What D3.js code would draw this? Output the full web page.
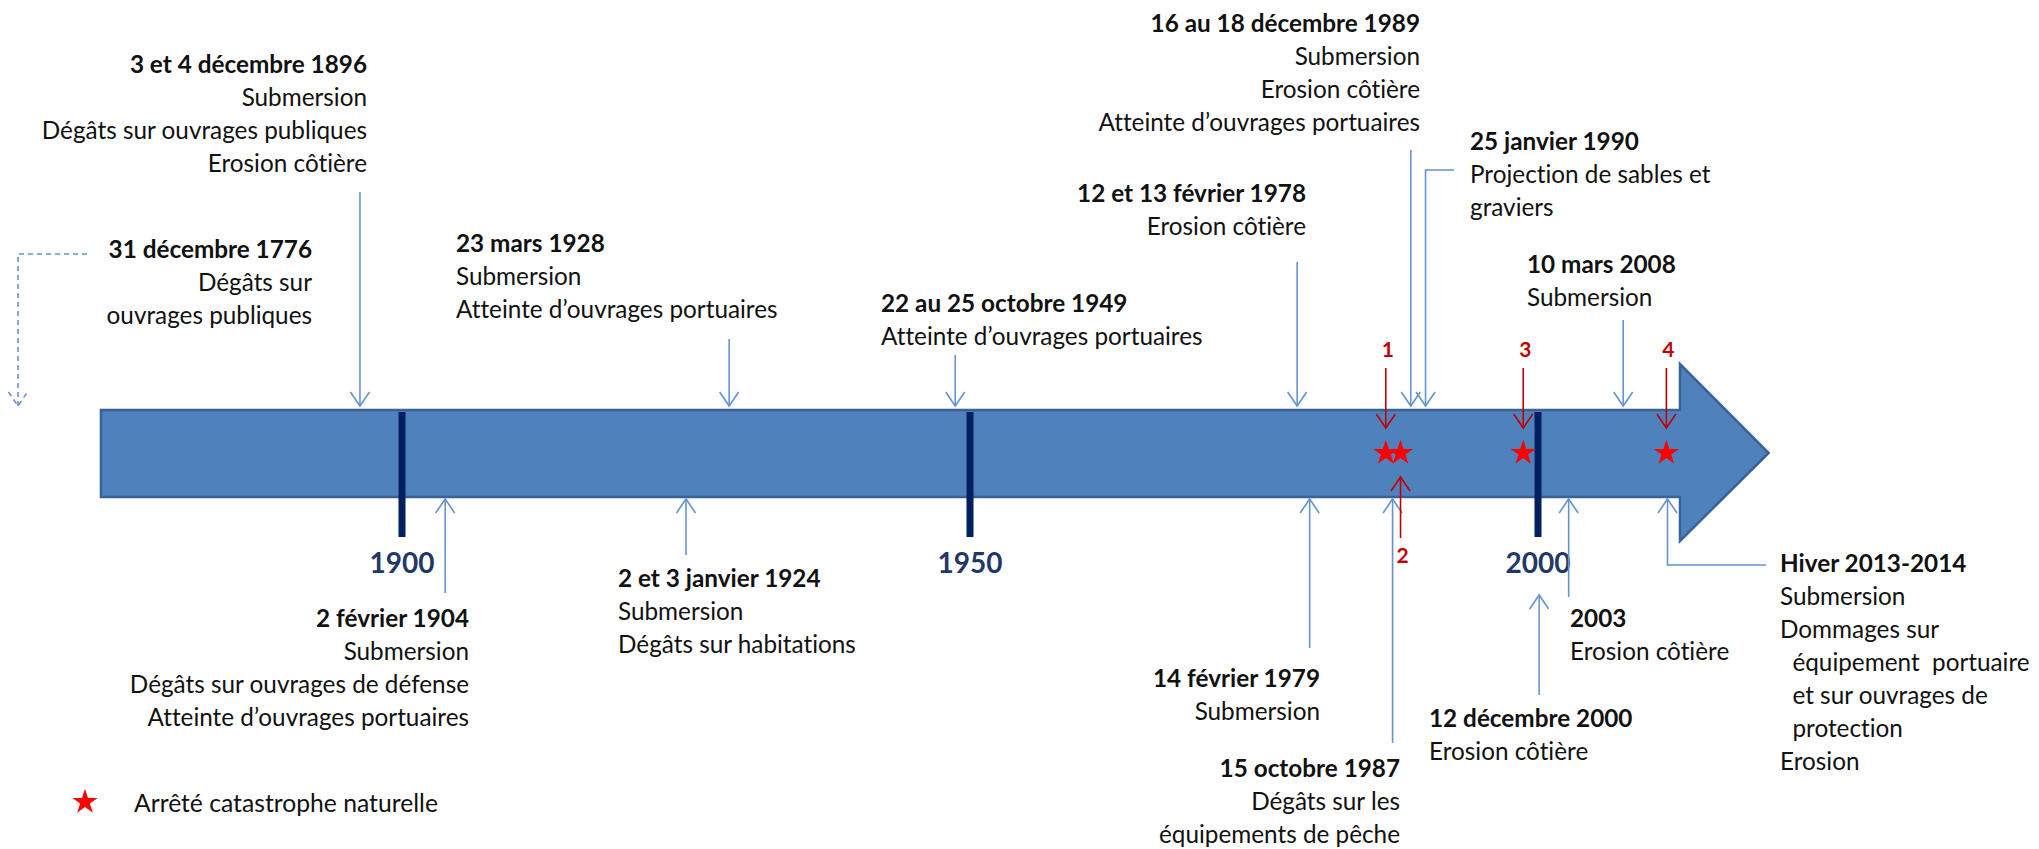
<!DOCTYPE html>
<html lang="fr">
<head>
<meta charset="UTF-8">
<title>Chronologie des tempêtes</title>
<script src="https://cdn.jsdelivr.net/npm/d3@7"></script>
<style>
  body { margin: 0; background: #fff; }
  svg { display: block; font-family: Lato, "Open Sans", sans-serif; }
  text { white-space: pre; font-variant-ligatures: none; font-feature-settings: "liga" 0, "dlig" 0; }
</style>
</head>
<body>
<svg></svg>
<script>
// ---- data ----
const yearTicks = [1900, 1950, 2000];

const eventTitles = [
  "31 décembre 1776",
  "3 et 4 décembre 1896",
  "2 février 1904",
  "2 et 3 janvier 1924",
  "23 mars 1928",
  "22 au 25 octobre 1949",
  "12 et 13 février 1978",
  "14 février 1979",
  "15 octobre 1987",
  "16 au 18 décembre 1989",
  "25 janvier 1990",
  "12 décembre 2000",
  "2003",
  "10 mars 2008",
  "Hiver 2013-2014"
];

const eventLines = [
  ["Dégâts sur", "ouvrages publiques"],
  ["Submersion", "Dégâts sur ouvrages publiques", "Erosion côtière"],
  ["Submersion", "Dégâts sur ouvrages de défense", "Atteinte d’ouvrages portuaires"],
  ["Submersion", "Dégâts sur habitations"],
  ["Submersion", "Atteinte d’ouvrages portuaires"],
  ["Atteinte d’ouvrages portuaires"],
  ["Erosion côtière"],
  ["Submersion"],
  ["Dégâts sur les", "équipements de pêche"],
  ["Submersion", "Erosion côtière", "Atteinte d’ouvrages portuaires"],
  ["Projection de sables et", "graviers"],
  ["Erosion côtière"],
  ["Erosion côtière"],
  ["Submersion"],
  ["Submersion", "Dommages sur", "  équipement  portuaire", "  et sur ouvrages de", "  protection", "Erosion"]
];

// where each arrow meets the timeline (in years)
const eventPos = [1776, 1896.3, 1903.8, 1925.0, 1928.8, 1948.7, 1978.8, 1979.9,
                  1987.2, 1988.8, 1990.1, 2000.1, 2002.7, 2007.5, 2011.4];
const eventSide = ["top", "top", "bottom", "bottom", "top", "top", "top", "bottom",
                   "bottom", "top", "top", "bottom", "bottom", "top", "bottom"];

// arrêtés catastrophe naturelle
const catNatPos = [1986.6, 1987.9, 1998.7, 2011.3];
const catNatLabels = ["1", "2", "3", "4"];
const catNatSide = ["top", "bottom", "top", "top"];

const legendLabel = "Arrêté catastrophe naturelle";

// ---- layout ----
const width = 2039, height = 849;
const barTop = 410, barBottom = 497, headTop = 364, headBottom = 541, midY = 453;
const lineH = 33;

// stem start, label anchor / x / title baseline for each event
const eventLayout = [
  { stem: 254, anchor: "end", lx: 312, ty: 258, dashed: true, fixedX: 18, elbow: 87 },
  { stem: 192, anchor: "end", lx: 367, ty: 73 },
  { stem: 593, anchor: "end", lx: 469, ty: 627 },
  { stem: 555, anchor: "start", lx: 618, ty: 587 },
  { stem: 339, anchor: "start", lx: 456, ty: 252 },
  { stem: 355, anchor: "start", lx: 881, ty: 312 },
  { stem: 262, anchor: "end", lx: 1306, ty: 202 },
  { stem: 648, anchor: "end", lx: 1320, ty: 687 },
  { stem: 743, anchor: "end", lx: 1400, ty: 777 },
  { stem: 150, anchor: "end", lx: 1420, ty: 32 },
  { stem: 170, anchor: "start", lx: 1470, ty: 150, elbow: 1454 },
  { stem: 695, anchor: "start", lx: 1429, ty: 727, tip: 595 },
  { stem: 597, anchor: "start", lx: 1570, ty: 627 },
  { stem: 320, anchor: "start", lx: 1527, ty: 273 },
  { stem: 565, anchor: "start", lx: 1780, ty: 572, elbow: 1766 }
];

const x = d3.scaleLinear().domain([1900, 2000]).range([402, 1538]);
const axisStart = 1873.5, headStart = 2012.5, headEnd = 2020.3;

const svg = d3.select("svg").attr("width", width).attr("height", height);
svg.append("rect").attr("width", width).attr("height", height).attr("fill", "#fff");

const blue = "#6593D0", red = "#C00000", navy = "#002060";

// chevron arrowhead, dir = 1 points down, -1 points up
function head(cx, tipY, dir) {
  return `M${cx - 9.5},${tipY - 14 * dir}L${cx},${tipY}L${cx + 9.5},${tipY - 14 * dir}`;
}

// timeline arrow
svg.append("path")
  .attr("d", `M${x(axisStart)},${barTop}H${x(headStart)}V${headTop}L${x(headEnd)},${midY}` +
             `L${x(headStart)},${headBottom}V${barBottom}H${x(axisStart)}Z`)
  .attr("fill", "#4F81BD")
  .attr("stroke", "#3A6294")
  .attr("stroke-width", 2.5);

// year ticks
svg.selectAll(".tick").data(yearTicks).join("line")
  .attr("x1", d => x(d)).attr("x2", d => x(d))
  .attr("y1", barTop + 2).attr("y2", 537)
  .attr("stroke", navy).attr("stroke-width", 7);

svg.selectAll(".year").data(yearTicks).join("text")
  .attr("x", d => x(d)).attr("y", 573)
  .attr("text-anchor", "middle")
  .attr("font-size", 28).attr("font-weight", 700)
  .attr("fill", "#1F3864")
  .text(d => d);

// event arrows
const events = eventTitles.map((t, i) => ({
  title: t, lines: eventLines[i], pos: eventPos[i], side: eventSide[i], ...eventLayout[i]
}));

events.forEach(e => {
  const ex = e.fixedX !== undefined ? e.fixedX : x(e.pos);
  const top = e.side === "top";
  const tipY = e.tip !== undefined ? e.tip : (top ? barTop - 4 : barBottom + 2);
  let d;
  if (e.elbow !== undefined) d = `M${e.elbow},${e.stem}H${ex}V${tipY}`;
  else d = `M${ex},${e.stem}V${tipY}`;
  const g = svg.append("g")
    .attr("fill", "none")
    .attr("stroke", blue)
    .attr("stroke-width", 1.6)
    .attr("stroke-dasharray", e.dashed ? "5,4" : null);
  g.append("path").attr("d", d);
  g.append("path").attr("d", head(ex, tipY, top ? 1 : -1)).attr("stroke-dasharray", null);

  const t = svg.append("text")
    .attr("text-anchor", e.anchor)
    .attr("font-size", 24.3)
    .attr("fill", "#111");
  t.append("tspan").attr("x", e.lx).attr("y", e.ty)
    .attr("font-weight", 700).text(e.title);
  e.lines.forEach((l, j) => {
    t.append("tspan").attr("x", e.lx).attr("y", e.ty + lineH * (j + 1)).text(l);
  });
});

// catastrophe naturelle stars & red arrows
const star = d3.symbol().type(d3.symbolStar).size(200);

catNatPos.forEach((p, i) => {
  const cx = x(p);
  const top = catNatSide[i] === "top";
  const y0 = top ? 368 : 538, tipY = top ? 428 : 477;
  const g = svg.append("g").attr("fill", "none").attr("stroke", red).attr("stroke-width", 1.6);
  g.append("path").attr("d", `M${cx},${y0}V${tipY}`);
  g.append("path").attr("d", head(cx, tipY, top ? 1 : -1));
  svg.append("text")
    .attr("x", cx + 2).attr("y", top ? 357 : 563)
    .attr("text-anchor", "middle")
    .attr("font-size", 21).attr("font-weight", 700)
    .attr("fill", red)
    .text(catNatLabels[i]);
});

svg.selectAll(".star").data(catNatPos).join("path")
  .attr("transform", d => `translate(${x(d)},${midY})`)
  .attr("d", star)
  .attr("fill", "#FF0000");

// legend
svg.append("path")
  .attr("transform", "translate(85,802)")
  .attr("d", star)
  .attr("fill", "#FF0000");
svg.append("text")
  .attr("x", 134).attr("y", 812)
  .attr("font-size", 24.7)
  .attr("fill", "#111")
  .text(legendLabel);
</script>
</body>
</html>
